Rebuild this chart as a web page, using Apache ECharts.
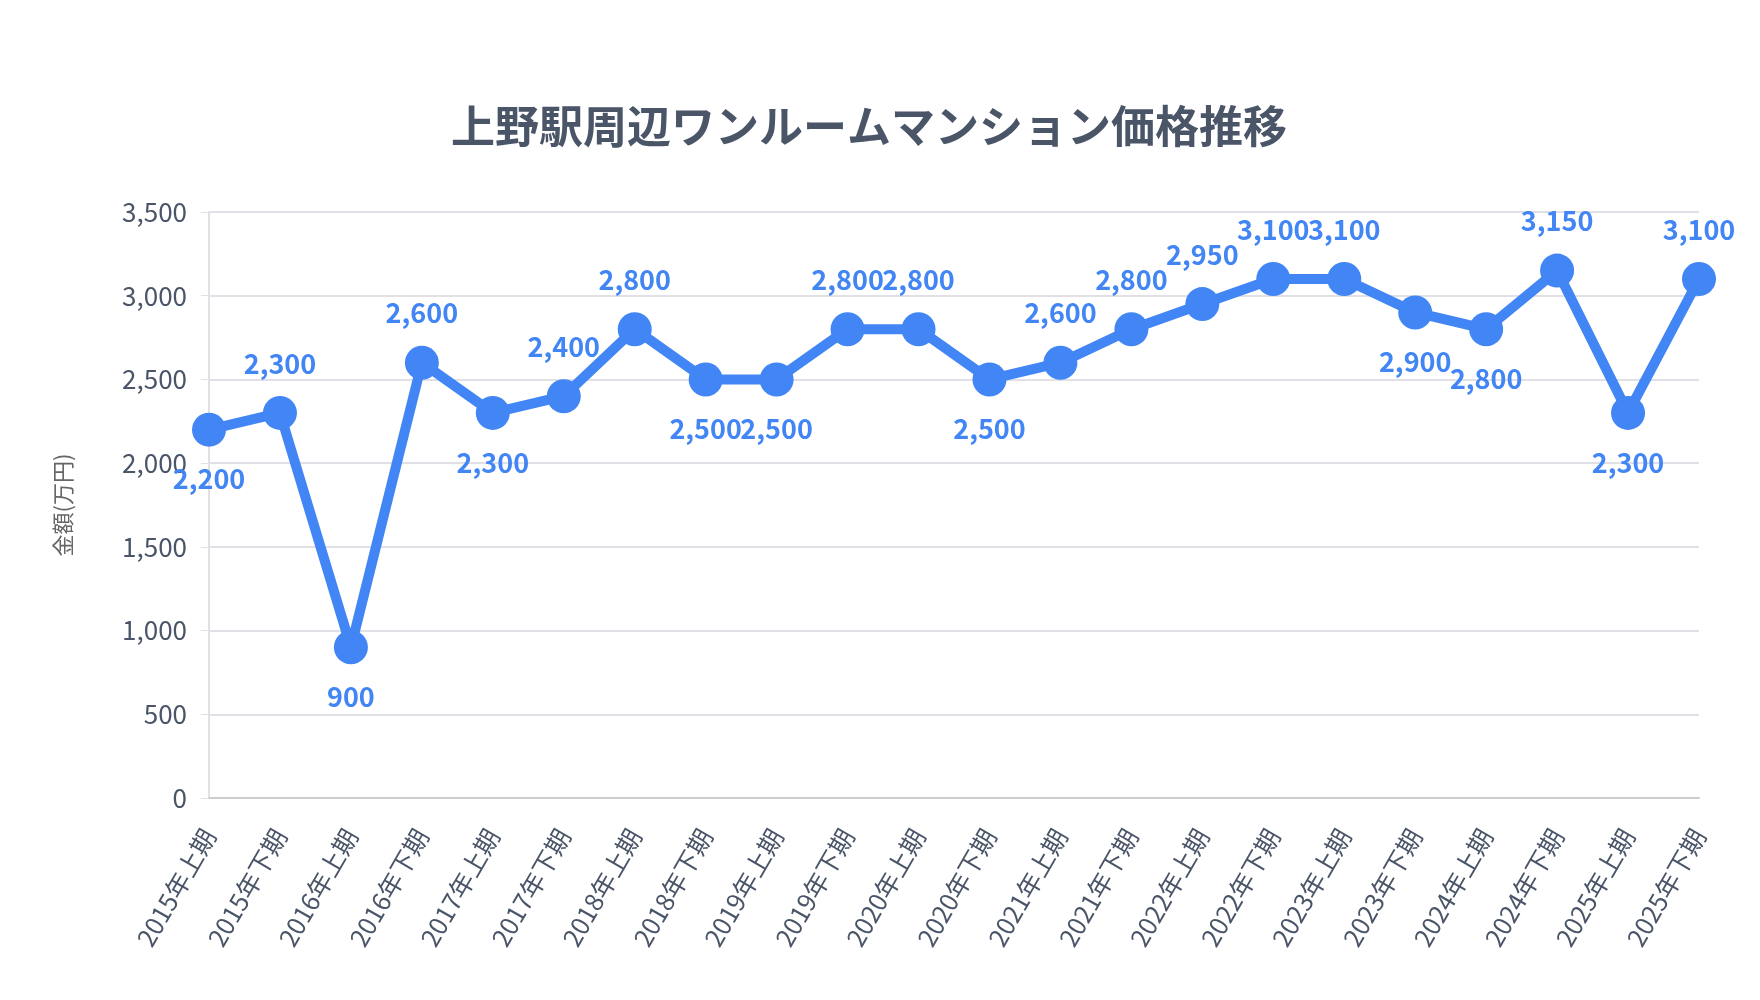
<!DOCTYPE html>
<html>
<head>
<meta charset="utf-8">
<script src="https://cdn.jsdelivr.net/npm/echarts@6/dist/echarts.min.js"></script>
<style>
html,body{margin:0;padding:0;background:#fff;}
#chart{width:1760px;height:1000px;}
</style>
</head>
<body>
<div id="chart"></div>
<script>
const titleText = '上野駅周辺ワンルームマンション価格推移';
const yAxisName = '金額(万円)';
const categories = ['2015年上期','2015年下期','2016年上期','2016年下期','2017年上期','2017年下期','2018年上期','2018年下期','2019年上期','2019年下期','2020年上期','2020年下期','2021年上期','2021年下期','2022年上期','2022年下期','2023年上期','2023年下期','2024年上期','2024年下期','2025年上期','2025年下期'];
const prices = [2200,2300,900,2600,2300,2400,2800,2500,2500,2800,2800,2500,2600,2800,2950,3100,3100,2900,2800,3150,2300,3100];

const FONT = '"Noto Sans CJK JP","Noto Sans",sans-serif';
const BLUE = '#4285F4';

// label above when rising, below when falling, keep previous when flat
const positions = [];
prices.forEach((v, i) => {
  if (i === 0) positions.push('bottom');
  else if (v > prices[i-1]) positions.push('top');
  else if (v < prices[i-1]) positions.push('bottom');
  else positions.push(positions[i-1]);
});

const seriesData = prices.map((v, i) => ({
  value: v,
  label: { position: positions[i] }
}));

const chart = echarts.init(document.getElementById('chart'));
chart.setOption({
  backgroundColor: '#ffffff',
  animation: false,
  title: {
    text: titleText,
    left: 446,
    top: 99,
    textStyle: { fontFamily: FONT, fontSize: 44, fontWeight: 'bold', color: '#4a5568' }
  },
  grid: { left: 209, right: 61, top: 212, bottom: 202 },
  xAxis: {
    type: 'category',
    data: categories,
    boundaryGap: false,
    axisLine: { show: true, lineStyle: { color: '#cccccc', width: 2 } },
    axisTick: { show: false },
    axisLabel: { rotate: 60, interval: 0, margin: 33, fontFamily: FONT, fontSize: 25, color: '#4a5568' },
    splitLine: { show: false }
  },
  yAxis: {
    type: 'value',
    min: 0, max: 3500, interval: 500,
    name: yAxisName,
    nameLocation: 'middle',
    nameGap: 135,
    nameTextStyle: { fontFamily: FONT, fontSize: 22, color: '#666666' },
    axisLine: { show: true, lineStyle: { color: '#e0e0e6', width: 2 } },
    axisTick: { show: true, length: 8, lineStyle: { color: '#e0e0e6' } },
    axisLabel: {
      margin: 22, fontFamily: FONT, fontSize: 26, color: '#4a5568',
      formatter: v => v.toLocaleString('en-US')
    },
    splitLine: { show: true, lineStyle: { color: '#e0e0e6', width: 2 } }
  },
  series: [{
    type: 'line',
    data: seriesData,
    symbol: 'circle',
    symbolSize: 34,
    lineStyle: { color: BLUE, width: 10 },
    itemStyle: { color: BLUE },
    label: {
      show: true,
      distance: 19,
      fontFamily: FONT, fontSize: 27, fontWeight: 'bold', color: BLUE,
      formatter: p => p.value.toLocaleString('en-US')
    }
  }]
});
</script>
</body>
</html>
